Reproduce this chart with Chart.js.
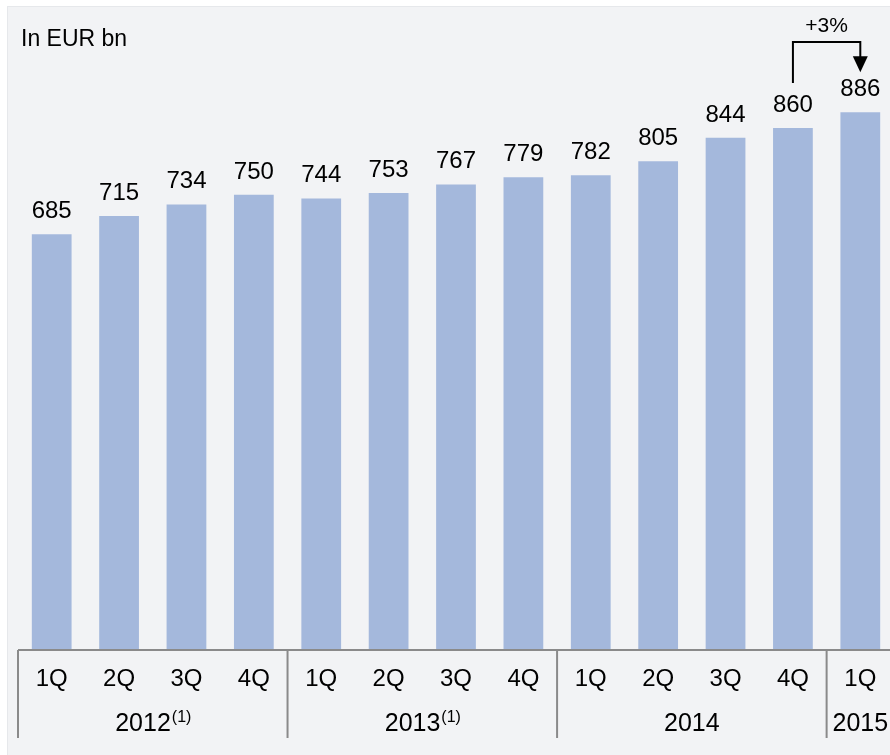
<!DOCTYPE html>
<html lang="en">
<head>
    <meta charset="UTF-8">
    <title>Quarterly volumes</title>
    <style>
        html, body {
            margin: 0;
            padding: 0;
            background-color: #ffffff;
            overflow: hidden;
        }
        .panel {
            position: absolute;
            left: 7px;
            top: 6px;
            width: 900px;
            height: 760px;
            background-color: #f2f3f5;
            border-top: 1px solid #e6e8eb;
            border-left: 1px solid #e6e8eb;
        }
        #chart {
            position: absolute;
            left: 0;
            top: 0;
        }
    </style>
    <script src="https://cdn.jsdelivr.net/npm/chart.js"></script>
</head>
<body>
<div class="panel"></div>
<canvas id="chart" width="900" height="755"></canvas>

<script>
// chart data
const quarters = ['1Q', '2Q', '3Q', '4Q', '1Q', '2Q', '3Q', '4Q', '1Q', '2Q', '3Q', '4Q', '1Q'];
const years = ['2012', '2012', '2012', '2012', '2013', '2013', '2013', '2013', '2014', '2014', '2014', '2014', '2015'];
const yearNotes = ['(1)', '(1)', '', ''];
const yearLabels = ['2012', '2013', '2014', '2015'];
const values = [685, 715, 734, 750, 744, 753, 767, 779, 782, 805, 844, 860, 886];
const growthLabel = '+3%';

const FONT = '"Liberation Sans", Arial, sans-serif';

// draws labels, axis, dividers and the growth arrow
const decorations = {
    id: 'decorations',
    afterDraw(chart) {
        const ctx = chart.ctx;
        const x = chart.scales.x;
        const y = chart.scales.y;
        const area = chart.chartArea;
        const slot = (area.right - area.left) / quarters.length;
        const base = y.getPixelForValue(0);

        ctx.save();

        // value labels
        ctx.fillStyle = '#000';
        ctx.font = '24px ' + FONT;
        ctx.textAlign = 'center';
        ctx.textBaseline = 'alphabetic';
        values.forEach((v, i) => {
            ctx.fillText(String(v), x.getPixelForValue(i), y.getPixelForValue(v) - 16);
        });

        // axis line
        ctx.strokeStyle = '#8a8a8a';
        ctx.lineWidth = 2;
        ctx.beginPath();
        ctx.moveTo(area.left, base);
        ctx.lineTo(chart.width, base);
        ctx.stroke();

        // quarter labels
        ctx.textBaseline = 'alphabetic';
        quarters.forEach((q, i) => {
            ctx.fillText(q, x.getPixelForValue(i), base + 36);
        });

        // year groups and dividers
        let start = 0;
        yearLabels.forEach((yr, g) => {
            let end = start;
            while (end < years.length && years[end] === yr) end++;
            const left = area.left + start * slot;
            const right = area.left + end * slot;

            ctx.beginPath();
            ctx.moveTo(left, base);
            ctx.lineTo(left, base + 88);
            ctx.stroke();

            const cx = (left + right) / 2;
            const note = yearNotes[g];
            ctx.font = '16px ' + FONT;
            const nw = note ? ctx.measureText(note).width : 0;
            ctx.font = '25px ' + FONT;
            const yw = ctx.measureText(yr).width;
            const tx = cx - (yw + nw) / 2;
            ctx.textAlign = 'left';
            ctx.fillText(yr, tx, base + 81);
            if (note) {
                ctx.font = '16px ' + FONT;
                ctx.fillText(note, tx + yw + 1, base + 72);
            }
            ctx.textAlign = 'center';
            ctx.font = '24px ' + FONT;
            start = end;
        });

        // growth arrow between last two bars
        const i0 = values.length - 2;
        const i1 = values.length - 1;
        const x0 = x.getPixelForValue(i0);
        const x1 = x.getPixelForValue(i1);
        const yStart = y.getPixelForValue(values[i0]) - 45;
        const yTop = 42;
        const yTip = y.getPixelForValue(values[i1]) - 40;
        ctx.strokeStyle = '#000';
        ctx.lineWidth = 2;
        ctx.beginPath();
        ctx.moveTo(x0, yStart);
        ctx.lineTo(x0, yTop);
        ctx.lineTo(x1, yTop);
        ctx.lineTo(x1, yTip - 14);
        ctx.stroke();
        ctx.fillStyle = '#000';
        ctx.beginPath();
        ctx.moveTo(x1 - 7.5, yTip - 16);
        ctx.lineTo(x1 + 7.5, yTip - 16);
        ctx.lineTo(x1, yTip);
        ctx.closePath();
        ctx.fill();
        ctx.font = '21px ' + FONT;
        ctx.textBaseline = 'middle';
        ctx.fillText(growthLabel, (x0 + x1) / 2, 26);

        // unit label
        ctx.textAlign = 'left';
        ctx.font = '23px ' + FONT;
        ctx.fillText('In EUR bn', 21, 40);

        ctx.restore();
    }
};

new Chart(document.getElementById('chart').getContext('2d'), {
    type: 'bar',
    data: {
        labels: quarters,
        datasets: [{
            data: values,
            backgroundColor: '#a4b8dc',
            borderWidth: 0,
            categoryPercentage: 1,
            barPercentage: 0.59
        }]
    },
    options: {
        responsive: false,
        animation: false,
        devicePixelRatio: 1,
        layout: {
            padding: { left: 18, right: 6, top: 43, bottom: 105 }
        },
        plugins: {
            legend: { display: false },
            tooltip: { enabled: false }
        },
        scales: {
            x: { display: false },
            y: { display: false, min: 0, max: 1000 }
        }
    },
    plugins: [decorations]
});
</script>
</body>
</html>
